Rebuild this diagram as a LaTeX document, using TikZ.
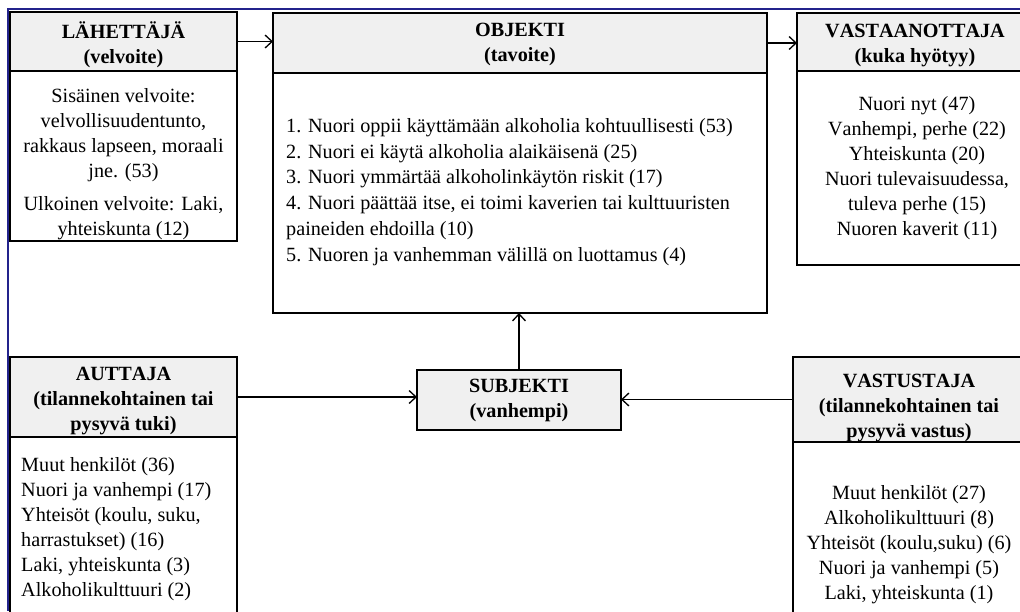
\documentclass[tikz,border=0pt]{standalone}
\usepackage{fontspec}
\setmainfont{Liberation Serif}[Kerning=Off]
\usetikzlibrary{arrows.meta}
\definecolor{reuna}{RGB}{35,35,140}

\tikzset{
  box/.style={draw, line width=2.6pt, anchor=north west, outer sep=0pt, inner sep=0pt},
  head/.style={box, fill=gray!12},
  txt/.style={align=center, inner sep=0pt, font=\fontsize{20.2}{25}\selectfont},
  htxt/.style={txt, font=\fontsize{20.2}{25}\selectfont\bfseries},
  pil/.style={-{Straight Barb[length=7pt,width=13pt]}, line width=1.3pt},
}

\begin{document}
\begin{tikzpicture}[x=1pt,y=-1pt]
\clip (0,0) rectangle (1020,611);
\fill[white] (0,0) rectangle (1020,611);
\draw[reuna, line width=1.6pt] (1020,9) -- (8,9) -- (8,611);

% laatikot
\node[box, minimum width=227, minimum height=170] (lahbody) at (10,71) {};
\node[head, minimum width=227, minimum height=59] (lahhead) at (10,12) {};
\node[box, minimum width=494, minimum height=240] (objbody) at (273,73) {};
\node[head, minimum width=494, minimum height=60] (objhead) at (273,13) {};
\node[box, minimum width=240, minimum height=194] (vasbody) at (797,71) {};
\node[head, minimum width=240, minimum height=58] (vashead) at (797,13) {};

\node[box, minimum width=227, minimum height=200] (autbody) at (10,437) {};
\node[head, minimum width=227, minimum height=80] (authead) at (10,357) {};
\node[box, minimum width=235, minimum height=200] (vstbody) at (793,442) {};
\node[head, minimum width=235, minimum height=85] (vsthead) at (793,357) {};

\node[head, htxt, minimum width=204, minimum height=60] (subj) at (417,370) {SUBJEKTI\\(vanhempi)};

% tekstit
\node[htxt] (lahotsikko) at (123.5,45) {LÄHETTÄJÄ\\(velvoite)};
\node[txt] (lahteksti) at (123.5,164) {Sisäinen velvoite:\\velvollisuudentunto,\\rakkaus lapseen, moraali\\jne. (53)\\[8pt]Ulkoinen velvoite: Laki,\\yhteiskunta (12)};

\node[htxt] (objotsikko) at (520,44.5) {OBJEKTI\\(tavoite)};
\node[txt, align=left, anchor=west, font=\fontsize{20.2}{25.8}\selectfont] (objteksti) at (286,192) {1. Nuori oppii käyttämään alkoholia kohtuullisesti (53)\\2. Nuori ei käytä alkoholia alaikäisenä (25)\\3. Nuori ymmärtää alkoholinkäytön riskit (17)\\4. Nuori päättää itse, ei toimi kaverien tai kulttuuristen\\paineiden ehdoilla (10)\\5. Nuoren ja vanhemman välillä on luottamus (4)};

\node[htxt] (vasotsikko) at (915,45.5) {VASTAANOTTAJA\\(kuka hyötyy)};
\node[txt] (vasteksti) at (917,168) {Nuori nyt (47)\\Vanhempi, perhe (22)\\Yhteiskunta (20)\\Nuori tulevaisuudessa,\\tuleva perhe (15)\\Nuoren kaverit (11)};

\node[htxt] (autotsikko) at (123.5,401) {AUTTAJA\\(tilannekohtainen tai\\pysyvä tuki)};
\node[txt, align=left, anchor=west] (autteksti) at (21,529) {Muut henkilöt (36)\\Nuori ja vanhempi (17)\\Yhteisöt (koulu, suku,\\harrastukset) (16)\\Laki, yhteiskunta (3)\\Alkoholikulttuuri (2)};

\node[htxt] (vstotsikko) at (909,408) {VASTUSTAJA\\(tilannekohtainen tai\\pysyvä vastus)};
\node[txt] (vstteksti) at (909,545) {Muut henkilöt (27)\\Alkoholikulttuuri (8)\\Yhteisöt (koulu,suku) (6)\\Nuori ja vanhempi (5)\\Laki, yhteiskunta (1)};

% nuolet
\draw[pil] (lahhead.east) -- (lahhead.east -| objhead.west);
\draw[pil] (objhead.east) -- (objhead.east -| vashead.west);
\draw[pil] (subj.north) -- (subj.north |- objbody.south);
\draw[pil] (authead.east) -- (authead.east -| subj.west);
\draw[pil] (vsthead.west) -- (vsthead.west -| subj.east);

\end{tikzpicture}
\end{document}
